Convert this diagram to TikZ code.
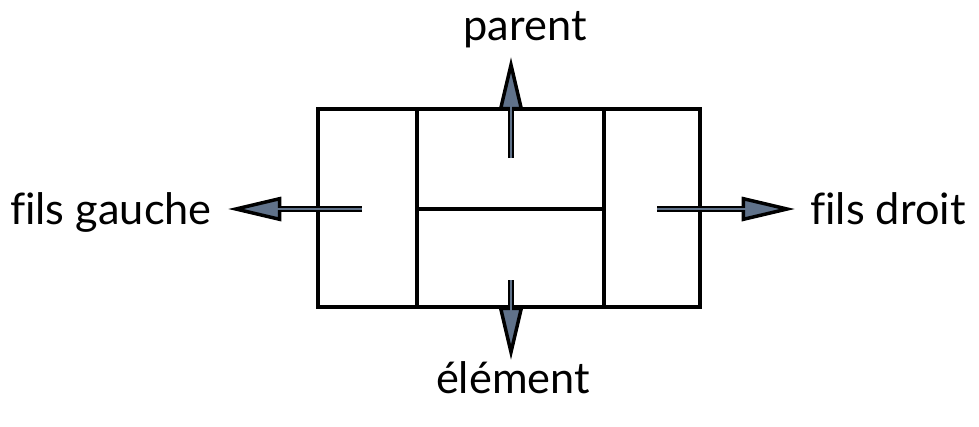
\documentclass[tikz,border=0pt]{standalone}
\usepackage{fontspec}
\setmainfont[Ligatures={NoCommon}]{Lato}
\usetikzlibrary{arrows.meta}
\definecolor{arrfill}{RGB}{96,114,138}
\begin{document}
\begin{tikzpicture}[x=0.75pt,y=-0.75pt,
  cell/.style={draw, line width=2.4pt, inner sep=0pt, outer sep=0pt},
  bigarrow/.style={line width=5pt, -{Triangle[length=40pt, width=18pt, line width=2.6pt, fill=arrfill]}},
  innerline/.style={draw=arrfill, line width=1.3pt},
  lbl/.style={font=\fontsize{32.5}{36}\selectfont, inner sep=0pt}]
\useasboundingbox (0,0) rectangle (979,426);
% cells
\node[cell, minimum width=74.25pt, minimum height=148.5pt] (left) at (367.5,208) {};
\node[cell, minimum width=140.25pt, minimum height=75pt] (midtop) at (510.5,159) {};
\node[cell, minimum width=140.25pt, minimum height=73.5pt] (midbot) at (510.5,258) {};
\node[cell, minimum width=72pt, minimum height=148.5pt] (right) at (652,208) {};
% coordinates
\coordinate (ls) at (362,209); \coordinate (lt) at (228,209);
\coordinate (rs) at (657,209); \coordinate (rt) at (795,209);
\coordinate (us) at (511,158); \coordinate (ut) at (511,57);
\coordinate (ds) at (511,280); \coordinate (dt) at (511,360);
% labels
\node[lbl, anchor=base east] (fg) at (212,224) {fils gauche};
\node[lbl, anchor=base west] (fd) at (810,224) {fils droit};
\node[lbl, anchor=base] (parent) at (525,40) {parent};
\node[lbl, anchor=base] (elem) at (513,393) {élément};
% arrows
\foreach \s/\t in {ls/lt, rs/rt, us/ut, ds/dt}{
  \draw[bigarrow] (\s) -- (\t);
  \draw[innerline, shorten >=30pt] (\s) -- (\t);
}
\end{tikzpicture}
\end{document}
